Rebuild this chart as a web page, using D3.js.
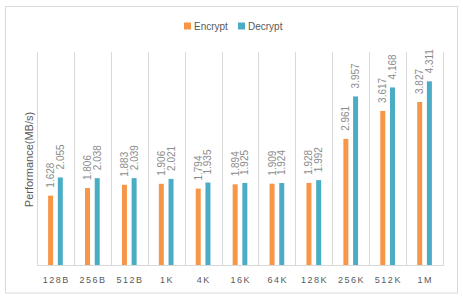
<!DOCTYPE html>
<html>
<head>
<meta charset="utf-8">
<script src="https://cdn.jsdelivr.net/npm/d3@7"></script>
<style>
  body { margin: 0; background: #fff; }
  text { font-family: "Liberation Sans", Arial, sans-serif; }
</style>
</head>
<body>
<svg id="chart"></svg>
<script>
// values
const categories = ["128B", "256B", "512B", "1K", "4K", "16K", "64K", "128K", "256K", "512K", "1M"];
const seriesNames = ["Encrypt", "Decrypt"];
const encrypt = [1.628, 1.806, 1.883, 1.906, 1.794, 1.894, 1.909, 1.928, 2.961, 3.617, 3.827];
const decrypt = [2.055, 2.038, 2.039, 2.021, 1.935, 1.925, 1.924, 1.992, 3.957, 4.168, 4.311];
const colors = ["#F79646", "#4BACC6"];

const width = 463, height = 300;
const plot = {left: 37, right: 443, top: 52, bottom: 265};

let svg = d3.select("#chart")
    .attr("width", width)
    .attr("height", height);

// outer chart border
svg.append("rect")
    .attr("x", 5.5).attr("y", 6.5)
    .attr("width", 452).attr("height", 286.5)
    .attr("fill", "#fff")
    .attr("stroke", "#d9d9d9");

let x0 = d3.scaleBand()
    .domain(categories)
    .range([plot.left, plot.right])
    .padding(0);

let x1 = d3.scaleBand()
    .domain(seriesNames)
    .range([0, 14.7])
    .paddingInner(0.485);

let y = d3.scaleLinear()
    .domain([0, 5])
    .range([plot.bottom, plot.top]);

// vertical category gridlines
svg.append("g")
    .selectAll("line")
    .data(d3.range(categories.length + 1))
    .enter().append("line")
    .attr("x1", i => Math.round(plot.left + i * x0.step()) + 0.5)
    .attr("x2", i => Math.round(plot.left + i * x0.step()) + 0.5)
    .attr("y1", plot.top)
    .attr("y2", plot.bottom)
    .attr("stroke", "#d9d9d9");

// category axis line
svg.append("line")
    .attr("x1", plot.left).attr("x2", plot.right + 1)
    .attr("y1", plot.bottom + 0.5).attr("y2", plot.bottom + 0.5)
    .attr("stroke", "#d9d9d9");

let rows = categories.map((c, i) => ({cat: c, values: [encrypt[i], decrypt[i]]}));
let offset = (x0.bandwidth() - 14.7) / 2;

let groups = svg.append("g")
    .selectAll("g")
    .data(rows)
    .enter().append("g")
    .attr("transform", d => `translate(${x0(d.cat) + offset},0)`);

groups.selectAll("rect")
    .data(d => d.values.map((v, k) => ({name: seriesNames[k], value: v, k: k})))
    .enter().append("rect")
    .attr("x", d => x1(d.name))
    .attr("width", x1.bandwidth())
    .attr("y", d => y(d.value))
    .attr("height", d => y(0) - y(d.value))
    .attr("fill", d => colors[d.k]);

// rotated value labels
groups.selectAll("text")
    .data(d => d.values.map((v, k) => ({name: seriesNames[k], value: v})))
    .enter().append("text")
    .attr("transform", d => `translate(${x1(d.name) + x1.bandwidth() / 2 + 3.5},${y(d.value) - 8}) rotate(-90)`)
    .attr("font-size", 10)
    .attr("fill", "#8c8c8c")
    .text(d => d3.format(".3f")(d.value));

// category labels
svg.append("g")
    .selectAll("text")
    .data(categories)
    .enter().append("text")
    .attr("x", d => x0(d) + x0.bandwidth() / 2 + 0.75)
    .attr("y", 283)
    .attr("text-anchor", "middle")
    .attr("font-size", 9)
    .attr("letter-spacing", "1.5px")
    .attr("fill", "#595959")
    .text(d => d);

// y axis title
svg.append("text")
    .attr("transform", `translate(33,159.5) rotate(-90)`)
    .attr("text-anchor", "middle")
    .attr("font-size", 11)
    .attr("fill", "#595959")
    .text("Performance(MB/s)");

// legend
let legendX = [184, 238];
let legend = svg.append("g")
    .selectAll("g")
    .data(seriesNames)
    .enter().append("g")
    .attr("transform", (d, i) => `translate(${legendX[i]},22.5)`);

legend.append("rect")
    .attr("width", 7).attr("height", 7)
    .attr("fill", (d, i) => colors[i]);

legend.append("text")
    .attr("x", 10)
    .attr("y", 7.5)
    .attr("font-size", 10)
    .attr("fill", "#595959")
    .text(d => d);
</script>
</body>
</html>
